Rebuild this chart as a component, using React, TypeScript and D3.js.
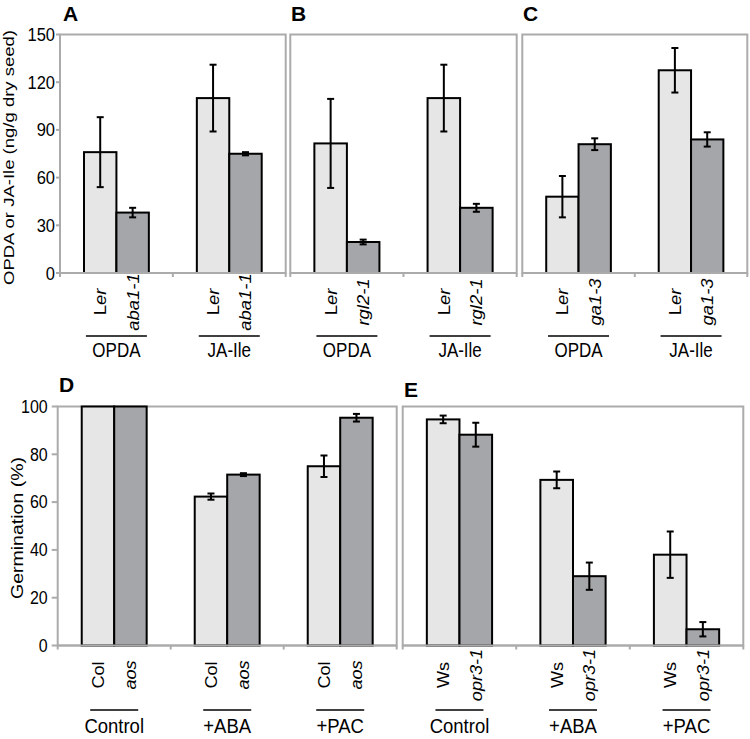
import React from "react";
import * as d3 from "d3";

const FONT = "'Liberation Sans', Arial, Helvetica, sans-serif";
const LIGHT = "#e6e6e6";
const DARK = "#a5a6a9";
const FRAME = "#ababab";

// ---------- data ----------
const hormoneGroups = ["OPDA", "JA-Ile"];
const treatGroups = ["Control", "+ABA", "+PAC"];

const ticksTop = [0, 30, 60, 90, 120, 150];
const ticksBottom = [0, 20, 40, 60, 80, 100];

// Panel A: Ler vs aba1-1
const aWt = [76, 110];
const aWtErr = [22, 21];
const aMut = [38, 75];
const aMutErr = [3, 1];
// Panel B: Ler vs rgl2-1
const bWt = [81.5, 110];
const bWtErr = [28, 21];
const bMut = [19.5, 41];
const bMutErr = [1.5, 2.5];
// Panel C: Ler vs ga1-3
const cWt = [48, 127.5];
const cWtErr = [13, 14];
const cMut = [81, 84];
const cMutErr = [3.7, 4.5];
// Panel D: Col vs aos (germination %)
const dWt = [100, 62.3, 75];
const dWtErr = [0, 1.3, 4.5];
const dMut = [100, 71.5, 95.3];
const dMutErr = [0, 0.6, 1.6];
// Panel E: Ws vs opr3-1
const eWt = [94.6, 69.3, 38];
const eWtErr = [1.6, 3.5, 9.7];
const eMut = [88.2, 29, 6.8];
const eMutErr = [5, 5.7, 3];

type Part = { t: string; i?: boolean };
const lblLer: Part[] = [{ t: "L" }, { t: "er", i: true }];
const lblAba: Part[] = [{ t: "aba1-1", i: true }];
const lblRgl: Part[] = [{ t: "rgl2-1", i: true }];
const lblGa: Part[] = [{ t: "ga1-3", i: true }];
const lblCol: Part[] = [{ t: "Col" }];
const lblAos: Part[] = [{ t: "aos", i: true }];
const lblWs: Part[] = [{ t: "Ws" }];
const lblOpr: Part[] = [{ t: "opr3-1", i: true }];

function T(props: {
  x: number;
  y: number;
  rot?: boolean;
  size: number;
  sy?: number;
  anchor?: string;
  weight?: string;
  dy?: string;
  children: React.ReactNode;
}) {
  const sy = props.sy ?? 1;
  const tr = props.rot
    ? `translate(${props.x},${props.y}) scale(1,${sy}) rotate(-90)`
    : `translate(${props.x},${props.y}) scale(1,${sy})`;
  return (
    <text
      transform={tr}
      fontSize={props.size}
      textAnchor={props.anchor ?? "start"}
      fontWeight={props.weight ?? "normal"}
      fontFamily={FONT}
      dy={props.dy}
      fill="#000"
    >
      {props.children}
    </text>
  );
}

function parts(p: Part[]) {
  return p.map((s, k) => (
    <tspan key={k} fontStyle={s.i ? "italic" : "normal"}>
      {s.t}
    </tspan>
  ));
}

type PanelProps = {
  x0: number;
  x1: number;
  y0: number;
  y1: number;
  max: number;
  ticks?: number[];
  tickLen: number;
  tickGap: number;
  tickFont: number;
  groups: string[];
  wt: number[];
  wtErr: number[];
  mut: number[];
  mutErr: number[];
  wtLabel: Part[];
  mutLabel: Part[];
  letter: string;
  letterX: number;
  letterY: number;
  letterSize: number;
  rotY: number;
  rotFont: number;
  rotSy: number;
  rotOff: number;
  lineY: number;
  lineHalf: number;
  groupY: number;
  groupFont: number;
  groupSy: number;
};

function Panel(p: PanelProps) {
  const x = d3.scaleBand<string>().domain(p.groups).range([p.x0, p.x1]).padding(0);
  const inner = d3
    .scaleBand<string>()
    .domain(["wt", "mut"])
    .range([0, x.bandwidth()])
    .paddingInner(0)
    .paddingOuter(0.74);
  const y = d3.scaleLinear().domain([0, p.max]).range([p.y1, p.y0]);
  const bw = inner.bandwidth();
  const series = [
    { key: "wt", vals: p.wt, errs: p.wtErr, fill: LIGHT, label: p.wtLabel },
    { key: "mut", vals: p.mut, errs: p.mutErr, fill: DARK, label: p.mutLabel },
  ];
  const boundaries = d3.range(p.groups.length + 1).map((i) => p.x0 + i * x.step());
  return (
    <g>
      <rect
        x={p.x0}
        y={y(p.max)}
        width={p.x1 - p.x0}
        height={p.y1 - y(p.max)}
        fill="none"
        stroke={FRAME}
        strokeWidth={2}
      />
      {boundaries.map((bx, i) => (
        <line key={"bt" + i} x1={bx} x2={bx} y1={p.y1} y2={p.y1 + 4} stroke={FRAME} strokeWidth={2} />
      ))}
      {p.ticks &&
        p.ticks.map((t) => (
          <g key={"t" + t}>
            <line x1={p.x0 - p.tickLen} x2={p.x0} y1={y(t)} y2={y(t)} stroke={FRAME} strokeWidth={2} />
            <T x={p.x0 - p.tickGap} y={y(t)} size={p.tickFont} sy={1.1} anchor="end" dy="0.36em">
              {String(t)}
            </T>
          </g>
        ))}
      {p.groups.map((g, gi) =>
        series.map((s) => {
          const bx = (x(g) as number) + (inner(s.key) as number);
          const v = s.vals[gi];
          return (
            <rect
              key={g + s.key}
              x={bx}
              y={y(v)}
              width={bw}
              height={p.y1 - y(v)}
              fill={s.fill}
              stroke="#000"
              strokeWidth={2}
            />
          );
        })
      )}
      <line x1={p.x0} x2={p.x1} y1={p.y1} y2={p.y1} stroke={FRAME} strokeWidth={2} />
      {p.groups.map((g, gi) =>
        series.map((s) => {
          const e = s.errs[gi];
          if (!e) return null;
          const cx = (x(g) as number) + (inner(s.key) as number) + bw / 2;
          const v = s.vals[gi];
          const yt = y(v + e);
          const yb = y(v - e);
          return (
            <g key={"e" + g + s.key} stroke="#000" strokeWidth={2}>
              <line x1={cx} x2={cx} y1={yt} y2={yb} />
              <line x1={cx - 3.5} x2={cx + 3.5} y1={yt} y2={yt} />
              <line x1={cx - 3.5} x2={cx + 3.5} y1={yb} y2={yb} />
            </g>
          );
        })
      )}
      {p.groups.map((g, gi) => (
        <g key={"l" + g}>
          {series.map((s) => {
            const cx = (x(g) as number) + (inner(s.key) as number) + bw / 2;
            return (
              <T
                key={"r" + s.key}
                x={cx + p.rotOff}
                y={p.rotY}
                rot
                size={p.rotFont}
                sy={p.rotSy}
                anchor="middle"
              >
                {parts(s.label)}
              </T>
            );
          })}
          <line
            x1={(x(g) as number) + x.bandwidth() / 2 - p.lineHalf}
            x2={(x(g) as number) + x.bandwidth() / 2 + p.lineHalf}
            y1={p.lineY}
            y2={p.lineY}
            stroke="#000"
            strokeWidth={1.5}
          />
          <T
            x={(x(g) as number) + x.bandwidth() / 2}
            y={p.groupY}
            size={p.groupFont}
            sy={p.groupSy}
            anchor="middle"
          >
            {g}
          </T>
        </g>
      ))}
      <T x={p.letterX} y={p.letterY} size={p.letterSize} weight="bold">
        {p.letter}
      </T>
    </g>
  );
}

export default function App() {
  const top = {
    y0: 34.5,
    y1: 273,
    max: 150,
    tickLen: 4,
    tickGap: 5,
    tickFont: 16.5,
    groups: hormoneGroups,
    letterY: 20.5,
    letterSize: 21,
    rotY: 302,
    rotFont: 16.5,
    rotSy: 1.12,
    rotOff: 6,
    lineY: 336,
    lineHalf: 30.5,
    groupY: 356.5,
    groupFont: 17,
    groupSy: 1.15,
  };
  const bottom = {
    y0: 406.5,
    y1: 645.5,
    max: 100,
    tickLen: 6,
    tickGap: 10,
    tickFont: 16,
    groups: treatGroups,
    letterSize: 21,
    rotY: 675,
    rotFont: 16.8,
    rotSy: 1.08,
    rotOff: 6,
    lineY: 710,
    lineHalf: 24,
    groupY: 733,
    groupFont: 18.5,
    groupSy: 1.05,
  };
  return (
    <svg width={750} height={739} style={{ position: "absolute", left: 0, top: 0 }}>
      <rect width={750} height={739} fill="#fff" />
      <T x={14} y={157.5} rot size={15.3} sy={1.21} anchor="middle">
        OPDA or JA-Ile (ng/g dry seed)
      </T>
      <T x={23} y={528} rot size={16} sy={1.22} anchor="middle">
        Germination (%)
      </T>
      <Panel {...top} x0={60} x1={285.7} ticks={ticksTop} wt={aWt} wtErr={aWtErr} mut={aMut} mutErr={aMutErr}
        wtLabel={lblLer} mutLabel={lblAba} letter="A" letterX={63} />
      <Panel {...top} x0={290.3} x1={516.7} wt={bWt} wtErr={bWtErr} mut={bMut} mutErr={bMutErr}
        wtLabel={lblLer} mutLabel={lblRgl} letter="B" letterX={291} />
      <Panel {...top} x0={522.3} x1={747.3} wt={cWt} wtErr={cWtErr} mut={cMut} mutErr={cMutErr}
        wtLabel={lblLer} mutLabel={lblGa} letter="C" letterX={523} />
      <Panel {...bottom} x0={57.7} x1={396.7} ticks={ticksBottom} wt={dWt} wtErr={dWtErr} mut={dMut} mutErr={dMutErr}
        wtLabel={lblCol} mutLabel={lblAos} letter="D" letterX={59} letterY={391.7} />
      <Panel {...bottom} x0={402.7} x1={743.3} wt={eWt} wtErr={eWtErr} mut={eMut} mutErr={eMutErr}
        wtLabel={lblWs} mutLabel={lblOpr} letter="E" letterX={404} letterY={396.7} />
    </svg>
  );
}
